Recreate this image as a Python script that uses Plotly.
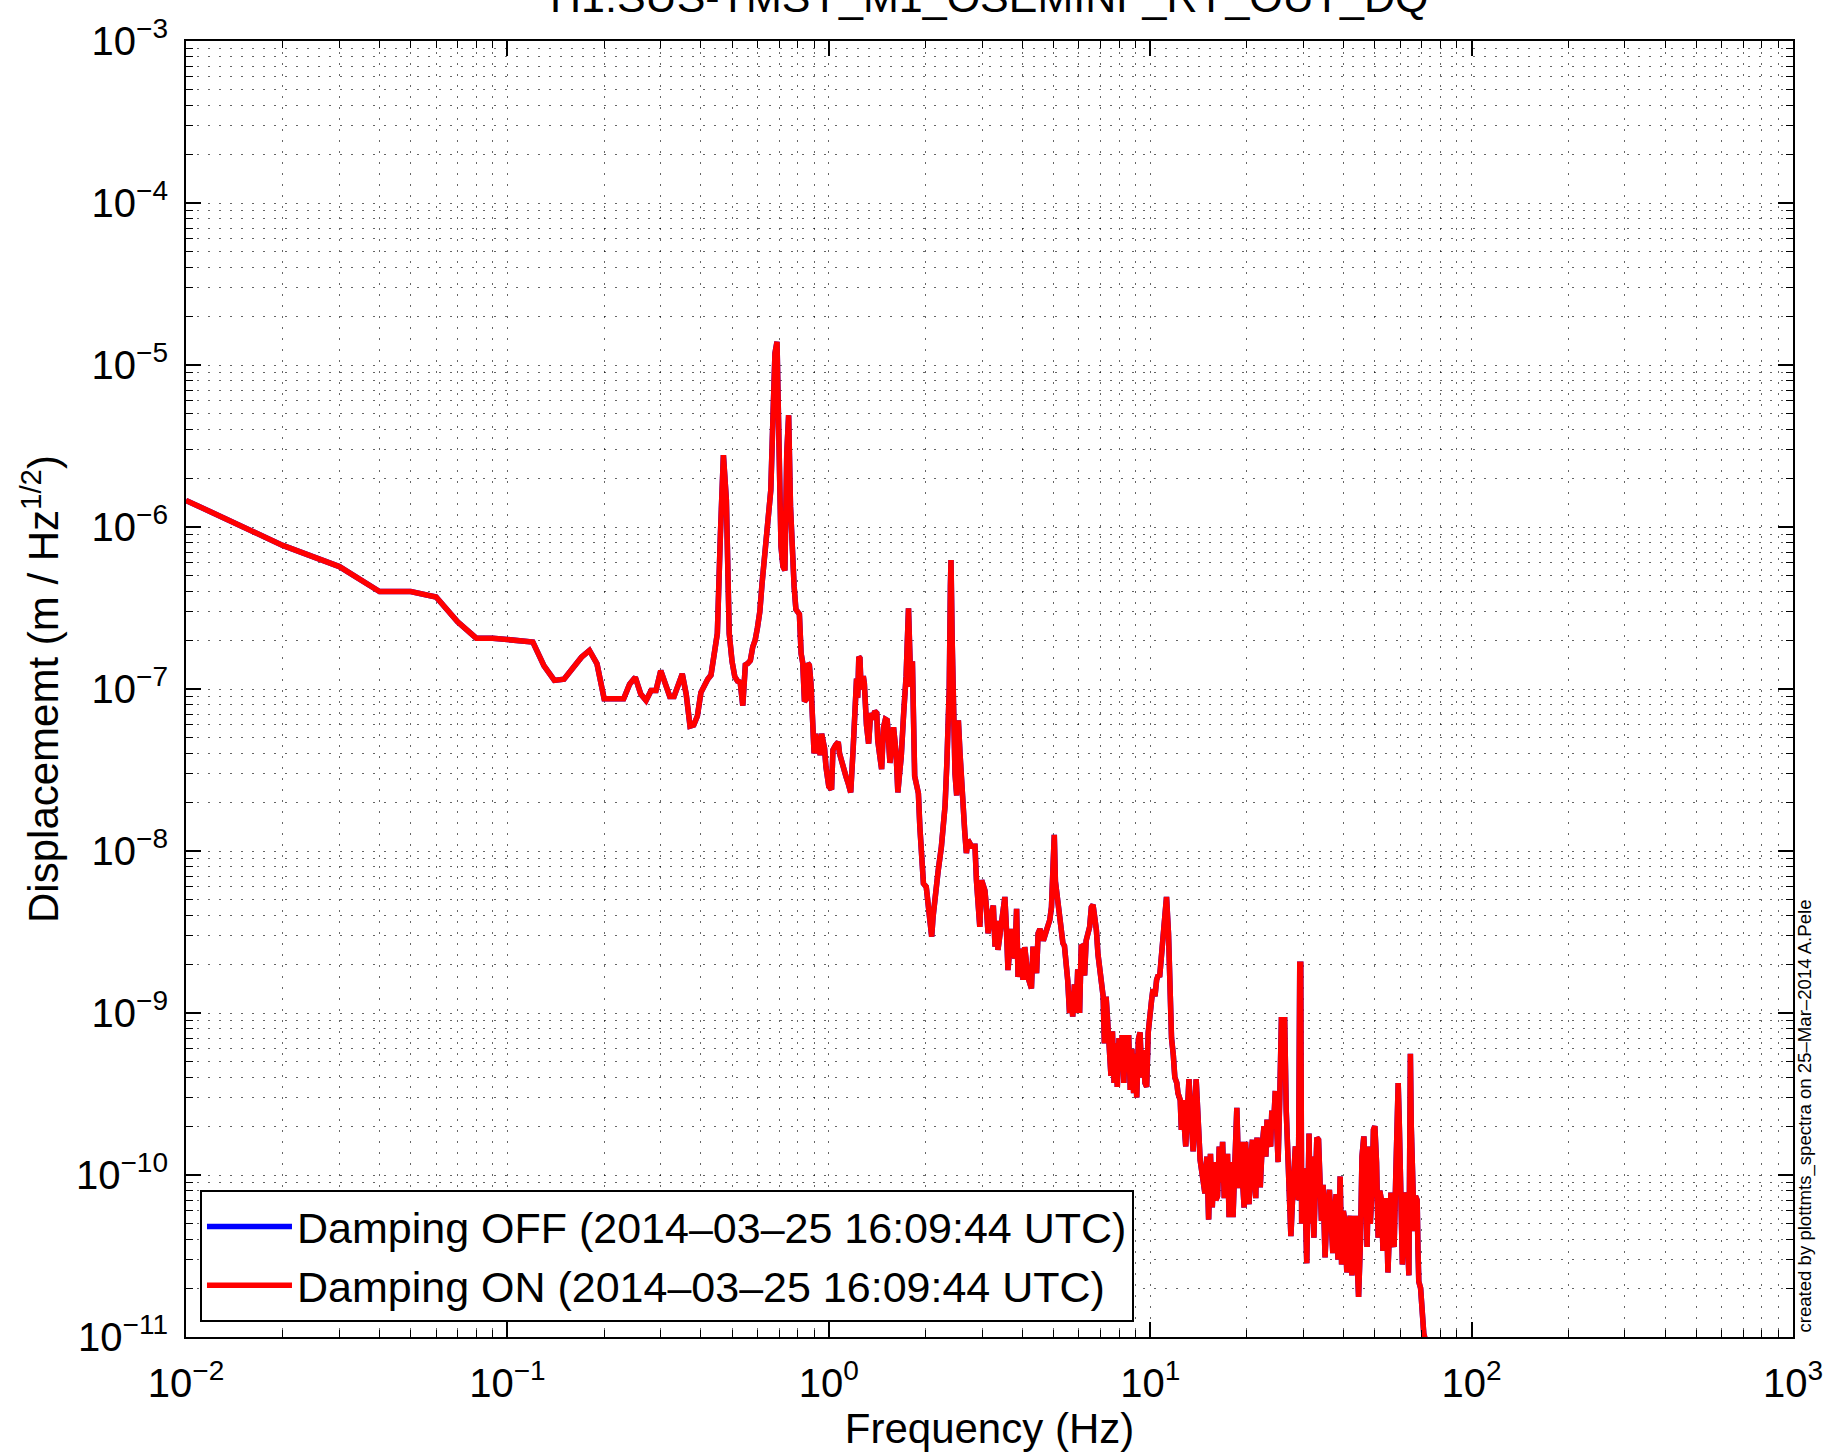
import plotly.graph_objects as go

# ---------------- data ----------------
# 0.01 Hz – 1 Hz
low_f = [0.01, 0.02, 0.03, 0.04, 0.05, 0.06, 0.07, 0.08, 0.09, 0.10,
         0.11, 0.12, 0.13, 0.14, 0.15, 0.16, 0.17, 0.18, 0.19, 0.20,
         0.21, 0.22, 0.23, 0.24, 0.25, 0.26, 0.27, 0.28, 0.29, 0.30,
         0.31, 0.32, 0.33, 0.34, 0.35, 0.36, 0.37, 0.38, 0.39, 0.40,
         0.41, 0.42, 0.43, 0.44, 0.45, 0.46, 0.47, 0.48, 0.49, 0.50,
         0.51, 0.52, 0.53, 0.54, 0.55, 0.56, 0.57, 0.58, 0.59, 0.60,
         0.61, 0.62, 0.63, 0.64, 0.65, 0.66, 0.67, 0.68, 0.69, 0.70,
         0.71, 0.72, 0.73, 0.74, 0.75, 0.76, 0.77, 0.78, 0.79, 0.80,
         0.81, 0.82, 0.83, 0.84, 0.85, 0.86, 0.87, 0.88, 0.89, 0.90,
         0.91, 0.92, 0.93, 0.94, 0.95, 0.96, 0.97, 0.98, 0.99]
low_v = [1.46e-6, 7.7e-7, 5.7e-7, 4.0e-7, 4.0e-7, 3.7e-7, 2.6e-7, 2.06e-7, 2.06e-7, 2.02e-7,
         1.98e-7, 1.95e-7, 1.39e-7, 1.13e-7, 1.15e-7, 1.33e-7, 1.57e-7, 1.73e-7, 1.43e-7, 8.7e-8,
         8.7e-8, 8.7e-8, 8.7e-8, 1.07e-7, 1.18e-7, 9.3e-8, 8.5e-8, 9.8e-8, 9.8e-8, 1.3e-7,
         1.07e-7, 9.0e-8, 9.0e-8, 1.07e-7, 1.24e-7, 9.3e-8, 5.9e-8, 6.0e-8, 6.8e-8, 9.5e-8,
         1.07e-7, 1.15e-7, 1.22e-7, 1.6e-7, 2.2e-7, 9.0e-7, 2.78e-6, 1.47e-6, 2.2e-7, 1.48e-7,
         1.19e-7, 1.12e-7, 1.1e-7, 7.9e-8, 1.41e-7, 1.44e-7, 1.5e-7, 1.82e-7, 2.0e-7, 2.4e-7,
         3.0e-7, 4.5e-7, 6.2e-7, 8.3e-7, 1.1e-6, 1.69e-6, 4.6e-6, 1.18e-5, 1.39e-5, 2.85e-6,
         7.6e-7, 5.7e-7, 5.4e-7, 2.85e-6, 4.9e-6, 1.34e-6, 6.3e-7, 4.3e-7, 3.1e-7, 3.0e-7,
         2.9e-7, 1.66e-7, 1.44e-7, 8.4e-8, 8.6e-8, 1.44e-7, 1.4e-7, 1.08e-7, 6.1e-8, 4.0e-8,
         5.3e-8, 4.0e-8, 5.1e-8, 3.9e-8, 5.3e-8, 4.8e-8, 4.3e-8, 3.3e-8, 2.8e-8]

# 1 Hz – 10 Hz
mid_f = [1.00, 1.02, 1.03, 1.05, 1.07, 1.08, 1.10, 1.11, 1.13, 1.15,
         1.17, 1.19, 1.22, 1.23, 1.24, 1.25, 1.26, 1.27, 1.28, 1.29,
         1.31, 1.33, 1.35, 1.37, 1.39, 1.41, 1.42, 1.44, 1.46, 1.48,
         1.50, 1.52, 1.55, 1.57, 1.59, 1.62, 1.64, 1.66, 1.68, 1.71,
         1.74, 1.77, 1.79, 1.80, 1.82, 1.84, 1.85, 1.88, 1.90, 1.92,
         1.97, 2.01, 2.06, 2.09, 2.11, 2.14, 2.19, 2.24, 2.30, 2.33,
         2.37, 2.39, 2.40, 2.42, 2.44, 2.47, 2.50, 2.53, 2.56, 2.59,
         2.62, 2.65, 2.68, 2.71, 2.78, 2.85, 2.88, 2.95, 2.99, 3.06,
         3.09, 3.13, 3.17, 3.25, 3.29, 3.32, 3.36, 3.45, 3.53, 3.57,
         3.61, 3.70, 3.79, 3.84, 3.88, 3.98, 4.02, 4.07, 4.17, 4.27,
         4.32, 4.43, 4.48, 4.54, 4.65, 4.76, 4.87, 4.93, 4.99, 5.03,
         5.07, 5.11, 5.17, 5.23, 5.29, 5.35, 5.41, 5.48, 5.54, 5.61,
         5.67, 5.74, 5.81, 5.88, 5.95, 6.03, 6.10, 6.17, 6.25, 6.32,
         6.40, 6.48, 6.56, 6.64, 6.72, 6.80, 6.88, 6.97, 7.05, 7.14,
         7.20, 7.29, 7.37, 7.46, 7.55, 7.63, 7.72, 7.81, 7.90, 8.00,
         8.09, 8.18, 8.28, 8.37, 8.47, 8.57, 8.67, 8.77, 8.88, 8.98,
         9.08, 9.19, 9.30, 9.41, 9.52, 9.63, 9.75, 9.86]
mid_v = [2.5e-8, 2.4e-8, 4.2e-8, 4.5e-8, 4.7e-8, 4.0e-8, 3.4e-8, 3.2e-8, 2.9e-8, 2.6e-8,
         2.3e-8, 4.2e-8, 1.16e-7, 8.8e-8, 1.58e-7, 1.55e-7, 1.0e-7, 1.05e-7, 1.2e-7, 1.08e-7,
         6.0e-8, 4.6e-8, 7.1e-8, 6.5e-8, 7.3e-8, 7.1e-8, 4.8e-8, 3.5e-8, 3.2e-8, 5.8e-8,
         6.5e-8, 6.4e-8, 3.5e-8, 4.5e-8, 5.8e-8, 4.0e-8, 2.3e-8, 3.0e-8, 3.8e-8, 7.1e-8,
         1.2e-7, 3.15e-7, 1.2e-7, 1.03e-7, 1.48e-7, 6.0e-8, 2.9e-8, 2.5e-8, 2.27e-8, 1.41e-8,
         6.3e-9, 6.0e-9, 4.1e-9, 2.96e-9, 3.9e-9, 5.5e-9, 7.6e-9, 1.06e-8, 1.9e-8, 3.5e-8,
         1.0e-7, 4.3e-7, 6.25e-7, 2.0e-7, 5.3e-8, 3.0e-8, 2.2e-8, 6.4e-8, 4.0e-8, 2.5e-8,
         1.5e-8, 1.29e-8, 9.7e-9, 1.17e-8, 1.07e-8, 1.07e-8, 6.6e-9, 3.4e-9, 6.6e-9, 5.7e-9,
         4.6e-9, 3.1e-9, 3.7e-9, 4.6e-9, 2.57e-9, 3.7e-9, 2.45e-9, 4.0e-9, 5.2e-9, 3.3e-9,
         1.84e-9, 3.3e-9, 2.17e-9, 4.4e-9, 1.67e-9, 2.5e-9, 1.6e-9, 2.55e-9, 1.65e-9, 1.42e-9,
         2.57e-9, 1.76e-9, 3.1e-9, 3.3e-9, 2.8e-9, 3.25e-9, 3.75e-9, 4.5e-9, 1.1e-8, 1.26e-8,
         6.5e-9, 5.7e-9, 4.6e-9, 4.1e-9, 2.95e-9, 2.7e-9, 2.6e-9, 2.1e-9, 1.58e-9, 1.0e-9,
         1.35e-9, 9.5e-10, 1.5e-9, 1.0e-9, 1.86e-9, 1.0e-9, 2.57e-9, 2.6e-9, 1.7e-9, 2.8e-9,
         3.25e-9, 3.4e-9, 4.5e-9, 4.65e-9, 3.9e-9, 3.25e-9, 2.3e-9, 1.9e-9, 1.58e-9, 1.26e-9,
         6.5e-10, 1.26e-9, 9.0e-10, 5.9e-10, 4.1e-10, 7.7e-10, 3.7e-10, 6.5e-10, 3.5e-10, 7.0e-10,
         4.8e-10, 7.3e-10, 3.7e-10, 7.3e-10, 5.0e-10, 7.3e-10, 3.35e-10, 6.0e-10, 3.2e-10, 5.6e-10,
         3.0e-10, 6.9e-10, 7.6e-10, 4.0e-10, 5.9e-10, 3.7e-10, 3.5e-10, 7.6e-10]

# 10 Hz – 77 Hz
high_f = [9.98, 10.1, 10.2, 10.35, 10.47, 10.6, 10.7, 10.85, 10.97, 11.1,
          11.24, 11.4, 11.5, 11.65, 11.8, 11.93, 12.1, 12.2, 12.4, 12.5,
          12.6, 12.9, 13.2, 13.4, 13.6, 13.9, 14.1, 14.3, 14.6, 14.8,
          15.0, 15.2, 15.4, 15.6, 15.8, 16.0, 16.2, 16.4, 16.6, 16.8,
          17.0, 17.2, 17.4, 17.6, 17.8, 18.1, 18.3, 18.6, 18.9, 19.2,
          19.4, 19.6, 19.8, 20.0, 20.3, 20.5, 20.8, 21.0, 21.3, 21.5,
          21.8, 22.0, 22.3, 22.6, 22.9, 23.1, 23.4, 23.7, 23.9, 24.2,
          24.5, 24.8, 25.0, 25.3, 25.6, 25.9, 26.2, 26.5, 26.8, 27.1,
          27.4, 27.8, 28.0, 28.3, 28.6, 28.9, 29.2, 29.4, 29.6, 30.0,
          30.4, 30.7, 31.0, 31.2, 31.5, 31.9, 32.3, 33.0, 33.4, 33.7,
          34.1, 34.5, 35.0, 35.5, 36.1, 36.6, 37.0, 37.5, 37.9, 38.4,
          39.0, 39.4, 39.9, 40.4, 40.9, 41.4, 41.9, 42.4, 43.0, 43.5,
          44.0, 44.5, 45.1, 45.6, 46.2, 46.7, 47.3, 47.9, 48.4, 49.0,
          49.5, 50.0, 50.6, 51.2, 51.8, 52.4, 53.0, 53.6, 54.3, 54.9,
          55.5, 56.1, 56.7, 57.4, 58.1, 58.6, 59.1, 59.6, 60.1, 60.9,
          61.6, 62.3, 63.0, 63.8, 64.2, 64.5, 64.9, 65.6, 66.3, 66.9,
          67.7, 68.1, 68.5, 69.4, 70.2, 71.0, 71.9, 73.0, 75.0, 77.0]
high_v = [1.1e-9, 1.2e-9, 1.4e-9, 1.27e-9, 1.6e-9, 1.72e-9, 1.67e-9, 2.45e-9, 2.9e-9, 4.8e-9,
          5.2e-9, 3.1e-9, 1.66e-9, 7.0e-10, 5.5e-10, 4.0e-10, 3.7e-10, 3.2e-10, 2.9e-10, 1.9e-10,
          2.9e-10, 1.5e-10, 3.9e-10, 2.0e-10, 1.4e-10, 3.9e-10, 2.5e-10, 1.24e-10, 9.3e-11, 7.7e-11,
          1.3e-10, 5.3e-11, 1.35e-10, 6.3e-11, 1.2e-10, 7.0e-11, 7.4e-11, 1.5e-10, 9.0e-11, 1.6e-10,
          7.2e-11, 1.1e-10, 1.35e-10, 5.5e-11, 1.2e-10, 5.5e-11, 1.35e-10, 2.6e-10, 8.3e-11, 1.6e-10,
          9.0e-11, 6.3e-11, 1.6e-10, 9.0e-11, 6.6e-11, 1.2e-10, 1.65e-10, 1.0e-10, 7.2e-11, 1.7e-10,
          1.1e-10, 8.4e-11, 1.5e-10, 2.0e-10, 1.3e-10, 2.2e-10, 1.6e-10, 1.5e-10, 2.5e-10, 2.0e-10,
          3.3e-10, 2.1e-10, 1.2e-10, 3.0e-10, 9.1e-10, 9.1e-10, 9.1e-10, 2.5e-10, 1.4e-10, 6.5e-11,
          4.2e-11, 8.0e-11, 1.2e-10, 1.5e-10, 1.1e-10, 7.0e-11, 2.0e-9, 2.0e-9, 5.0e-11, 1.1e-10,
          6.0e-11, 2.85e-11, 8.0e-11, 1.8e-10, 5.0e-11, 1.3e-10, 4.1e-11, 1.7e-10, 1.65e-10, 1.1e-10,
          5.2e-11, 8.7e-11, 3.1e-11, 6.0e-11, 8.1e-11, 5.0e-11, 3.3e-11, 6.0e-11, 7.6e-11, 3.0e-11,
          9.8e-11, 2.8e-11, 6.0e-11, 5.1e-11, 2.5e-11, 4.5e-11, 5.6e-11, 2.4e-11, 4.0e-11, 5.6e-11,
          3.0e-11, 1.77e-11, 3.9e-11, 1.3e-10, 1.73e-10, 1.1e-10, 3.6e-11, 1.5e-10, 5.0e-11, 8.0e-11,
          1.9e-10, 2.0e-10, 1.2e-10, 4.1e-11, 8.0e-11, 7.0e-11, 3.4e-11, 5.5e-11, 7.2e-11, 2.5e-11,
          5.0e-11, 7.8e-11, 4.0e-11, 3.6e-11, 1.0e-10, 2.0e-10, 3.7e-10, 2.0e-10, 7.8e-11, 2.8e-11,
          5.0e-11, 7.8e-11, 5.0e-11, 2.4e-11, 1.5e-10, 5.6e-10, 2.0e-10, 5.1e-11, 4.5e-11, 7.4e-11,
          7.0e-11, 3.5e-11, 2.2e-11, 2.0e-11, 1.4e-11, 1.05e-11, 9.5e-12, 7.0e-12, 5.0e-12, 4.0e-12]

freq = low_f + mid_f + high_f
asd = low_v + mid_v + high_v

series_names = ["Damping OFF (2014–03–25 16:09:44 UTC)",
                "Damping ON (2014–03–25 16:09:44 UTC)"]
series_colors = ["#0000ff", "#ff0000"]

x_major = [0.01, 0.1, 1, 10, 100, 1000]
x_labels = ["10<sup>−2</sup>", "10<sup>−1</sup>", "10<sup>0</sup>",
            "10<sup>1</sup>", "10<sup>2</sup>", "10<sup>3</sup>"]
y_major = [1e-11, 1e-10, 1e-9, 1e-8, 1e-7, 1e-6, 1e-5, 1e-4, 1e-3]
y_labels = ["10<sup>−11</sup>", "10<sup>−10</sup>", "10<sup>−9</sup>", "10<sup>−8</sup>",
            "10<sup>−7</sup>", "10<sup>−6</sup>", "10<sup>−5</sup>", "10<sup>−4</sup>",
            "10<sup>−3</sup>"]

x_minor = [m * d for d in x_major[:-1] for m in range(2, 10)]
y_minor = [m * d for d in y_major[:-1] for m in range(2, 10)]

# ---------------- figure ----------------
FONT = "Liberation Sans, Arial, Helvetica, sans-serif"
fig = go.Figure()
for name, color in zip(series_names, series_colors):
    fig.add_trace(go.Scatter(x=freq, y=asd, mode="lines", name=name,
                             line=dict(color=color, width=5.5)))

grid_dash = "2px,9px"
grid_col = "rgba(0,0,0,0.6)"
axis_common = dict(
    type="log", showline=True, linecolor="black", linewidth=2, mirror="allticks",
    ticks="inside", ticklen=15, tickwidth=1.5, tickcolor="black",
    showgrid=True, gridcolor=grid_col, gridwidth=1, griddash=grid_dash,
    zeroline=False, tickmode="array",
    tickfont=dict(family=FONT, size=40, color="black"),
)

fig.update_xaxes(
    **axis_common, range=[-2, 3], tickvals=x_major, ticktext=x_labels,
    ticklabelstandoff=10,
    minor=dict(tickvals=x_minor, ticks="inside", ticklen=7, tickwidth=1.2,
               tickcolor="black", showgrid=True, gridcolor=grid_col,
               gridwidth=1, griddash=grid_dash),
    title=dict(text="Frequency (Hz)", font=dict(family=FONT, size=42, color="black"),
               standoff=2),
)
fig.update_yaxes(
    **axis_common, range=[-11, -3], tickvals=y_major, ticktext=y_labels,
    ticklabelstandoff=8,
    minor=dict(tickvals=y_minor, ticks="inside", ticklen=7, tickwidth=1.2,
               tickcolor="black", showgrid=True, gridcolor=grid_col,
               gridwidth=1, griddash=grid_dash),
    title=dict(text="Displacememt (m / Hz<sup>1/2</sup>)",
               font=dict(family=FONT, size=42, color="black"), standoff=4),
)

fig.update_layout(
    width=1844, height=1452,
    margin=dict(l=186, r=51, t=41, b=115, autoexpand=False),
    paper_bgcolor="white", plot_bgcolor="white",
    font=dict(family=FONT, color="black"),
    showlegend=True,
    legend=dict(x=0.0087, y=0.0116, xanchor="left", yanchor="bottom",
                bgcolor="white", bordercolor="black", borderwidth=2,
                font=dict(family=FONT, size=43, color="black"),
                itemwidth=85, tracegroupgap=0),
    annotations=[
        dict(text="H1:SUS-TMSY_M1_OSEMINF_RY_OUT_DQ", xref="paper", yref="paper",
             x=0.5, y=1.0139, xanchor="center", yanchor="bottom", showarrow=False,
             font=dict(family=FONT, size=43, color="black")),
        dict(text="created by plottmts_spectra on 25–Mar–2014 A.Pele", xref="paper",
             yref="paper", x=1.0075, y=0.0015, xanchor="center", yanchor="bottom",
             textangle=-90, showarrow=False,
             font=dict(family=FONT, size=18.6, color="black")),
    ],
)

fig.write_html("out.html", config={"displayModeBar": False},
               post_script="document.body.style.margin='0px';")
